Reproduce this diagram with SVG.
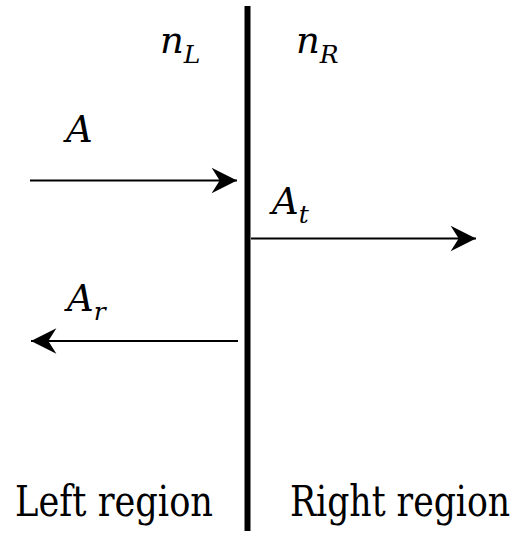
<svg xmlns="http://www.w3.org/2000/svg" width="520" height="536" viewBox="0 0 520 536">
<style>
.t{font-family:'DejaVu Serif',serif;fill:#000}
.math{font-style:italic}
.sub{font-size:25px}
.main{font-size:37px}
.lbl{font-size:42px}
.arrow{stroke:#000;stroke-width:2;fill:none}
</style>
<defs>
<marker id="head" markerUnits="userSpaceOnUse" markerWidth="30" markerHeight="30" viewBox="-24 -13 26 26" refX="0" refY="0" orient="auto">
<path d="M0,0 L-22,-11 L-15,0 L-22,11 Z" fill="#000"/>
</marker>
</defs>
<rect width="520" height="536" fill="#fff"/>
<g id="interface"><line x1="247.5" y1="6" x2="247.5" y2="531" stroke="#000" stroke-width="6"/></g>
<g id="connectors">
<line class="arrow" x1="30" y1="180.5" x2="237" y2="180.5" marker-end="url(#head)"/>
<line class="arrow" x1="251" y1="238.5" x2="476" y2="238.5" marker-end="url(#head)"/>
<line class="arrow" x1="238" y1="341" x2="31" y2="341" marker-end="url(#head)"/>
</g>
<g id="nL"><text class="t math main" x="160" y="53">n<tspan class="sub" dy="10">L</tspan></text></g>
<g id="nR"><text class="t math main" x="296" y="53">n<tspan class="sub" dy="10">R</tspan></text></g>
<g id="A"><text class="t math main" x="66" y="142">A</text></g>
<g id="At"><text class="t math main" x="272" y="214">A<tspan class="sub" dy="9">t</tspan></text></g>
<g id="Ar"><text class="t math main" x="67" y="311">A<tspan class="sub" dy="9">r</tspan></text></g>
<g id="left"><text class="t lbl" transform="translate(15,516) scale(0.85,1)" x="0" y="0" textLength="233" lengthAdjust="spacingAndGlyphs">Left region</text></g>
<g id="right"><text class="t lbl" transform="translate(290,516) scale(0.85,1)" x="0" y="0" textLength="259" lengthAdjust="spacingAndGlyphs">Right region</text></g>
</svg>
